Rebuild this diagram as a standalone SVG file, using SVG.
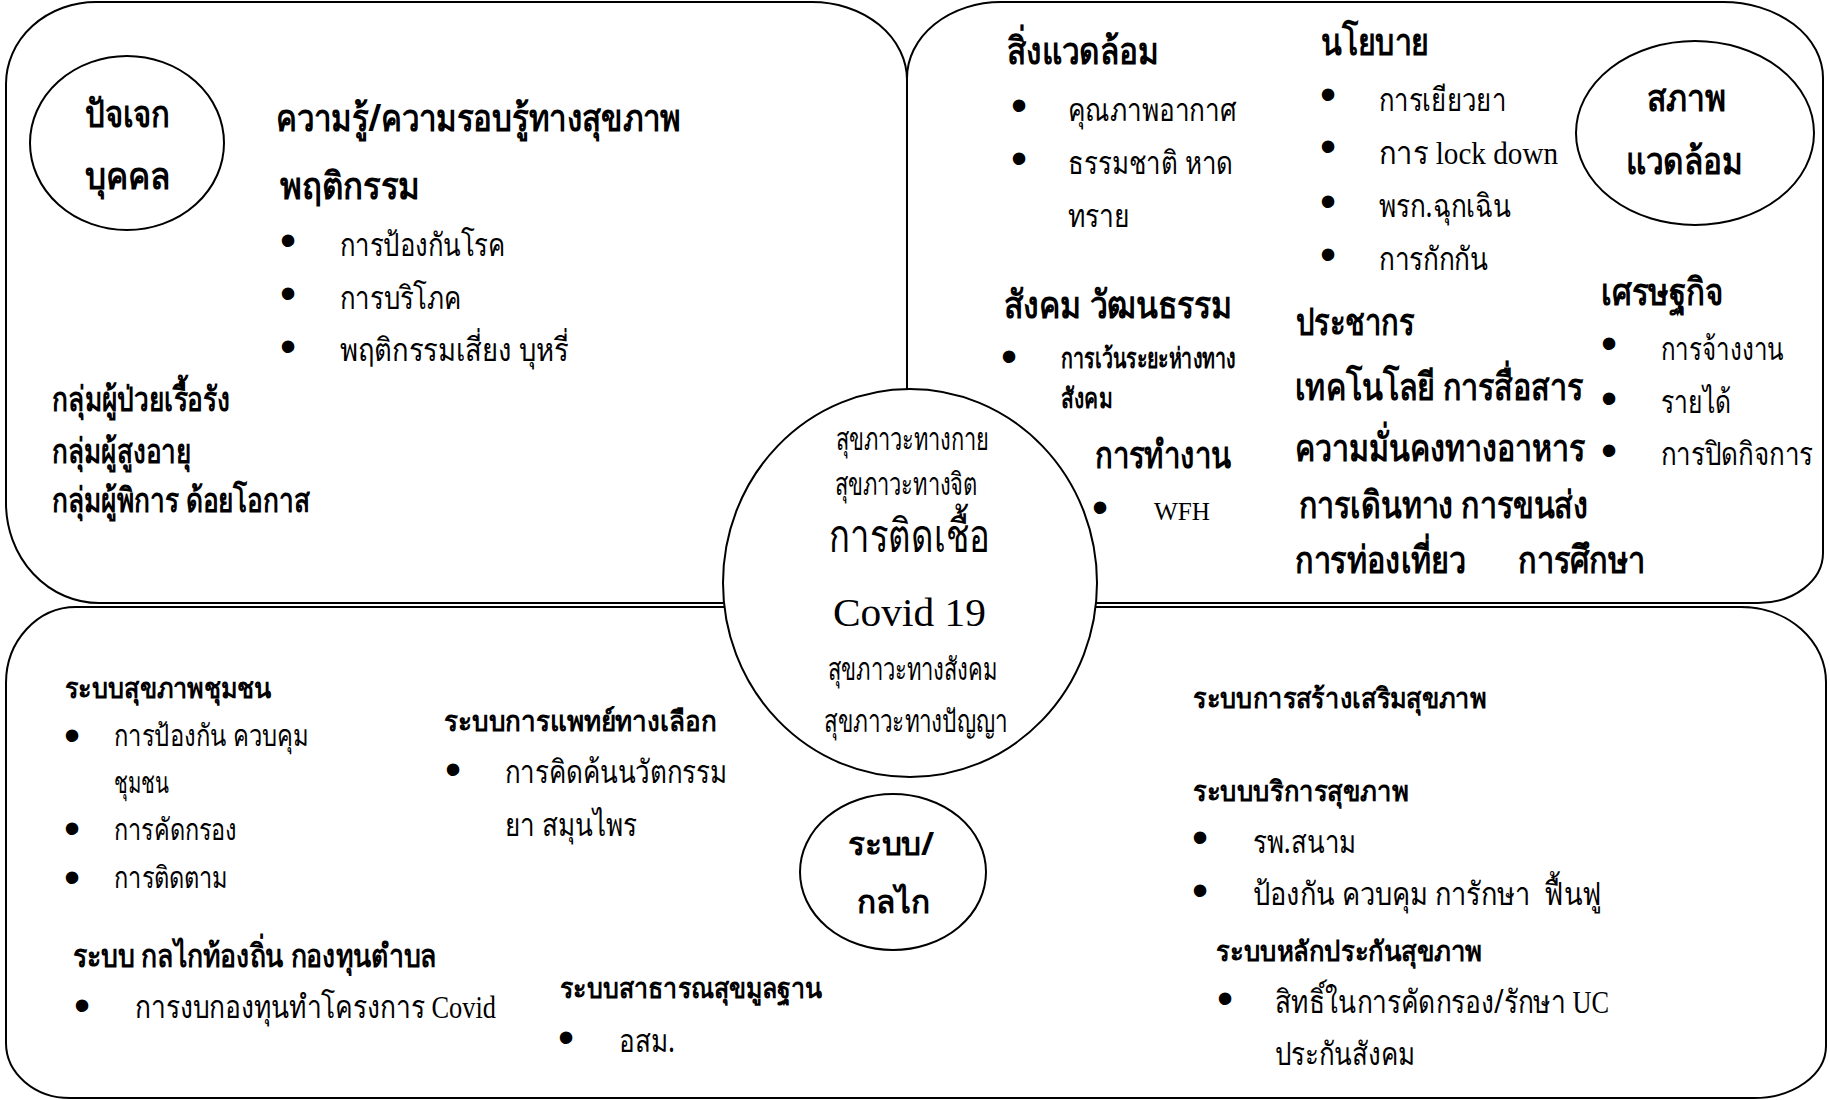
<svg xmlns="http://www.w3.org/2000/svg" width="1830" height="1100" viewBox="0 0 1830 1100">
<style>
.panel{fill:#fff;stroke:#000;stroke-width:2}
.node{fill:#fff;stroke:#000;stroke-width:2}
text{fill:#000;font-family:"Noto Sans","DejaVu Sans",sans-serif}
.h{font-size:38px;font-weight:bold}
.m{font-size:34px;font-weight:bold}
.r{font-size:32px}
.s{font-size:28px;font-weight:bold}
.t{font-size:30px}
.q{font-size:32px;font-weight:bold}
.c{font-size:31px;font-family:"Noto Serif","DejaVu Serif",serif}
.big{font-size:46px;font-family:"Noto Serif","DejaVu Serif",serif}
.lat{font-family:"Liberation Serif",serif}
.bu{font-size:46px;font-family:"Liberation Sans",sans-serif;text-anchor:middle}
</style>
<rect width="1830" height="1100" fill="#fff"/>
<g id="connectors"></g>

<g id="panel-individual">
<path class="panel" d="M96,2 H812 A95,78 0 0 1 907,80 V603 H99 A93,100 0 0 1 6,503 V84 A90,82 0 0 1 96,2 Z"/>
<text class="h" x="276" y="131" textLength="405" lengthAdjust="spacingAndGlyphs">ความรู้/ความรอบรู้ทางสุขภาพ</text>
<text class="h" x="280" y="199" textLength="140" lengthAdjust="spacingAndGlyphs">พฤติกรรม</text>
<text class="bu" x="288" y="256">•</text>
<text class="bu" x="288" y="309">•</text>
<text class="bu" x="288" y="362">•</text>
<text class="r" x="340" y="256" textLength="165" lengthAdjust="spacingAndGlyphs">การป้องกันโรค</text>
<text class="r" x="340" y="309" textLength="121" lengthAdjust="spacingAndGlyphs">การบริโภค</text>
<text class="r" x="340" y="361" textLength="229" lengthAdjust="spacingAndGlyphs">พฤติกรรมเสี่ยง บุหรี่</text>
<text class="m" x="52" y="411" textLength="178" lengthAdjust="spacingAndGlyphs">กลุ่มผู้ป่วยเรื้อรัง</text>
<text class="m" x="52" y="463" textLength="139" lengthAdjust="spacingAndGlyphs">กลุ่มผู้สูงอายุ</text>
<text class="m" x="52" y="512" textLength="258" lengthAdjust="spacingAndGlyphs">กลุ่มผู้พิการ ด้อยโอกาส</text>
</g>

<g id="panel-environment">
<path class="panel" d="M1001,2 H1723 A100,76 0 0 1 1823,78 V553 A65,50 0 0 1 1758,603 H907 V78 A94,76 0 0 1 1001,2 Z"/>
<text class="h" x="1007" y="64" textLength="152" lengthAdjust="spacingAndGlyphs">สิ่งแวดล้อม</text>
<text class="bu" x="1019" y="121">•</text>
<text class="bu" x="1019" y="174">•</text>
<text class="r" x="1068" y="121" textLength="168" lengthAdjust="spacingAndGlyphs">คุณภาพอากาศ</text>
<text class="r" x="1068" y="174" textLength="165" lengthAdjust="spacingAndGlyphs">ธรรมชาติ หาด</text>
<text class="r" x="1068" y="227" textLength="62" lengthAdjust="spacingAndGlyphs">ทราย</text>
<text class="h" x="1321" y="55" textLength="108" lengthAdjust="spacingAndGlyphs">นโยบาย</text>
<text class="bu" x="1328" y="110">•</text>
<text class="bu" x="1328" y="162">•</text>
<text class="bu" x="1328" y="217">•</text>
<text class="bu" x="1328" y="270">•</text>
<text class="r" x="1379" y="111" textLength="127" lengthAdjust="spacingAndGlyphs">การเยียวยา</text>
<text class="r" x="1379" y="164" textLength="179" lengthAdjust="spacingAndGlyphs">การ <tspan class="lat">lock down</tspan></text>
<text class="r" x="1379" y="217" textLength="132" lengthAdjust="spacingAndGlyphs">พรก.ฉุกเฉิน</text>
<text class="r" x="1379" y="270" textLength="109" lengthAdjust="spacingAndGlyphs">การกักกัน</text>
<text class="h" x="1601" y="305" textLength="122" lengthAdjust="spacingAndGlyphs">เศรษฐกิจ</text>
<text class="bu" x="1609" y="359">•</text>
<text class="bu" x="1609" y="414">•</text>
<text class="bu" x="1609" y="466">•</text>
<text class="r" x="1661" y="360" textLength="123" lengthAdjust="spacingAndGlyphs">การจ้างงาน</text>
<text class="r" x="1661" y="413" textLength="70" lengthAdjust="spacingAndGlyphs">รายได้</text>
<text class="r" x="1661" y="465" textLength="152" lengthAdjust="spacingAndGlyphs">การปิดกิจการ</text>
<text class="h" x="1004" y="318" textLength="228" lengthAdjust="spacingAndGlyphs">สังคม วัฒนธรรม</text>
<text class="bu" x="1009" y="372">•</text>
<text class="s" x="1061" y="368" textLength="175" lengthAdjust="spacingAndGlyphs">การเว้นระยะห่างทาง</text>
<text class="s" x="1061" y="408" textLength="51" lengthAdjust="spacingAndGlyphs">สังคม</text>
<text class="h" x="1095" y="468" textLength="136" lengthAdjust="spacingAndGlyphs">การทำงาน</text>
<text class="bu" x="1100" y="523">•</text>
<text class="lat" x="1154" y="520" font-size="25" textLength="56" lengthAdjust="spacingAndGlyphs">WFH</text>
<text class="h" x="1296" y="335" textLength="118" lengthAdjust="spacingAndGlyphs">ประชากร</text>
<text class="h" x="1295" y="400" textLength="288" lengthAdjust="spacingAndGlyphs">เทคโนโลยี การสื่อสาร</text>
<text class="h" x="1295" y="461" textLength="290" lengthAdjust="spacingAndGlyphs">ความมั่นคงทางอาหาร</text>
<text class="h" x="1299" y="518" textLength="289" lengthAdjust="spacingAndGlyphs">การเดินทาง การขนส่ง</text>
<text class="h" x="1295" y="573" textLength="171" lengthAdjust="spacingAndGlyphs">การท่องเที่ยว</text>
<text class="h" x="1518" y="573" textLength="127" lengthAdjust="spacingAndGlyphs">การศึกษา</text>
</g>

<g id="panel-system">
<path class="panel" d="M76,607 H1741 A85,75 0 0 1 1826,682 V1046 A72,52 0 0 1 1754,1098 H70 A64,55 0 0 1 6,1043 V683 A70,76 0 0 1 76,607 Z"/>
<text class="s" x="65" y="698" textLength="206" lengthAdjust="spacingAndGlyphs">ระบบสุขภาพชุมชน</text>
<text class="bu" x="72" y="751">•</text>
<text class="bu" x="72" y="844">•</text>
<text class="bu" x="72" y="893">•</text>
<text class="t" x="114" y="746" textLength="195" lengthAdjust="spacingAndGlyphs">การป้องกัน ควบคุม</text>
<text class="t" x="114" y="793" textLength="55" lengthAdjust="spacingAndGlyphs">ชุมชน</text>
<text class="t" x="114" y="840" textLength="123" lengthAdjust="spacingAndGlyphs">การคัดกรอง</text>
<text class="t" x="114" y="888" textLength="114" lengthAdjust="spacingAndGlyphs">การติดตาม</text>
<text class="s" x="444" y="731" textLength="273" lengthAdjust="spacingAndGlyphs">ระบบการแพทย์ทางเลือก</text>
<text class="bu" x="453" y="785">•</text>
<text class="r" x="505" y="783" textLength="222" lengthAdjust="spacingAndGlyphs">การคิดค้นนวัตกรรม</text>
<text class="r" x="505" y="836" textLength="132" lengthAdjust="spacingAndGlyphs">ยา สมุนไพร</text>
<text class="q" x="73" y="967" textLength="364" lengthAdjust="spacingAndGlyphs">ระบบ กลไกท้องถิ่น กองทุนตำบล</text>
<text class="bu" x="82" y="1021">•</text>
<text class="r" x="135" y="1018" textLength="361" lengthAdjust="spacingAndGlyphs">การงบกองทุนทำโครงการ <tspan class="lat">Covid</tspan></text>
<text class="s" x="560" y="998" textLength="262" lengthAdjust="spacingAndGlyphs">ระบบสาธารณสุขมูลฐาน</text>
<text class="bu" x="566" y="1053">•</text>
<text class="r" x="619" y="1052" textLength="56" lengthAdjust="spacingAndGlyphs">อสม.</text>
<text class="s" x="1193" y="708" textLength="293" lengthAdjust="spacingAndGlyphs">ระบบการสร้างเสริมสุขภาพ</text>
<text class="s" x="1193" y="801" textLength="215" lengthAdjust="spacingAndGlyphs">ระบบบริการสุขภาพ</text>
<text class="bu" x="1200" y="853">•</text>
<text class="bu" x="1200" y="906">•</text>
<text class="r" x="1253" y="853" textLength="103" lengthAdjust="spacingAndGlyphs">รพ.สนาม</text>
<text class="r" x="1253" y="905" textLength="349" lengthAdjust="spacingAndGlyphs" xml:space="preserve">ป้องกัน ควบคุม การักษา  ฟื้นฟู</text>
<text class="s" x="1216" y="961" textLength="266" lengthAdjust="spacingAndGlyphs">ระบบหลักประกันสุขภาพ</text>
<text class="bu" x="1225" y="1014">•</text>
<text class="r" x="1275" y="1013" textLength="334" lengthAdjust="spacingAndGlyphs">สิทธิ์ในการคัดกรอง/รักษา <tspan class="lat">UC</tspan></text>
<text class="r" x="1275" y="1065" textLength="140" lengthAdjust="spacingAndGlyphs">ประกันสังคม</text>
</g>

<g id="node-individual">
<ellipse class="node" cx="127" cy="143" rx="97" ry="87"/>
<text class="h" x="85" y="127" textLength="85" lengthAdjust="spacingAndGlyphs">ปัจเจก</text>
<text class="h" x="85" y="189" textLength="85" lengthAdjust="spacingAndGlyphs">บุคคล</text>
</g>

<g id="node-environment">
<ellipse class="node" cx="1695" cy="133" rx="119" ry="92"/>
<text class="h" x="1647" y="111" textLength="79" lengthAdjust="spacingAndGlyphs">สภาพ</text>
<text class="h" x="1626" y="174" textLength="117" lengthAdjust="spacingAndGlyphs">แวดล้อม</text>
</g>

<g id="node-mechanism">
<ellipse class="node" cx="893" cy="872" rx="93" ry="78"/>
<text class="q" x="848" y="855" textLength="86" lengthAdjust="spacingAndGlyphs">ระบบ/</text>
<text class="q" x="857" y="913" textLength="73" lengthAdjust="spacingAndGlyphs">กลไก</text>
</g>

<g id="node-covid">
<ellipse class="node" cx="910" cy="583" rx="187" ry="194"/>
<text class="c" x="836" y="450" textLength="153" lengthAdjust="spacingAndGlyphs">สุขภาวะทางกาย</text>
<text class="c" x="835" y="495" textLength="142" lengthAdjust="spacingAndGlyphs">สุขภาวะทางจิต</text>
<text class="big" x="829" y="552" textLength="161" lengthAdjust="spacingAndGlyphs">การติดเชื้อ</text>
<text class="lat" x="833" y="626" font-size="39" textLength="153" lengthAdjust="spacingAndGlyphs">Covid 19</text>
<text class="c" x="828" y="680" textLength="169" lengthAdjust="spacingAndGlyphs">สุขภาวะทางสังคม</text>
<text class="c" x="824" y="732" textLength="183" lengthAdjust="spacingAndGlyphs">สุขภาวะทางปัญญา</text>
</g>
</svg>
